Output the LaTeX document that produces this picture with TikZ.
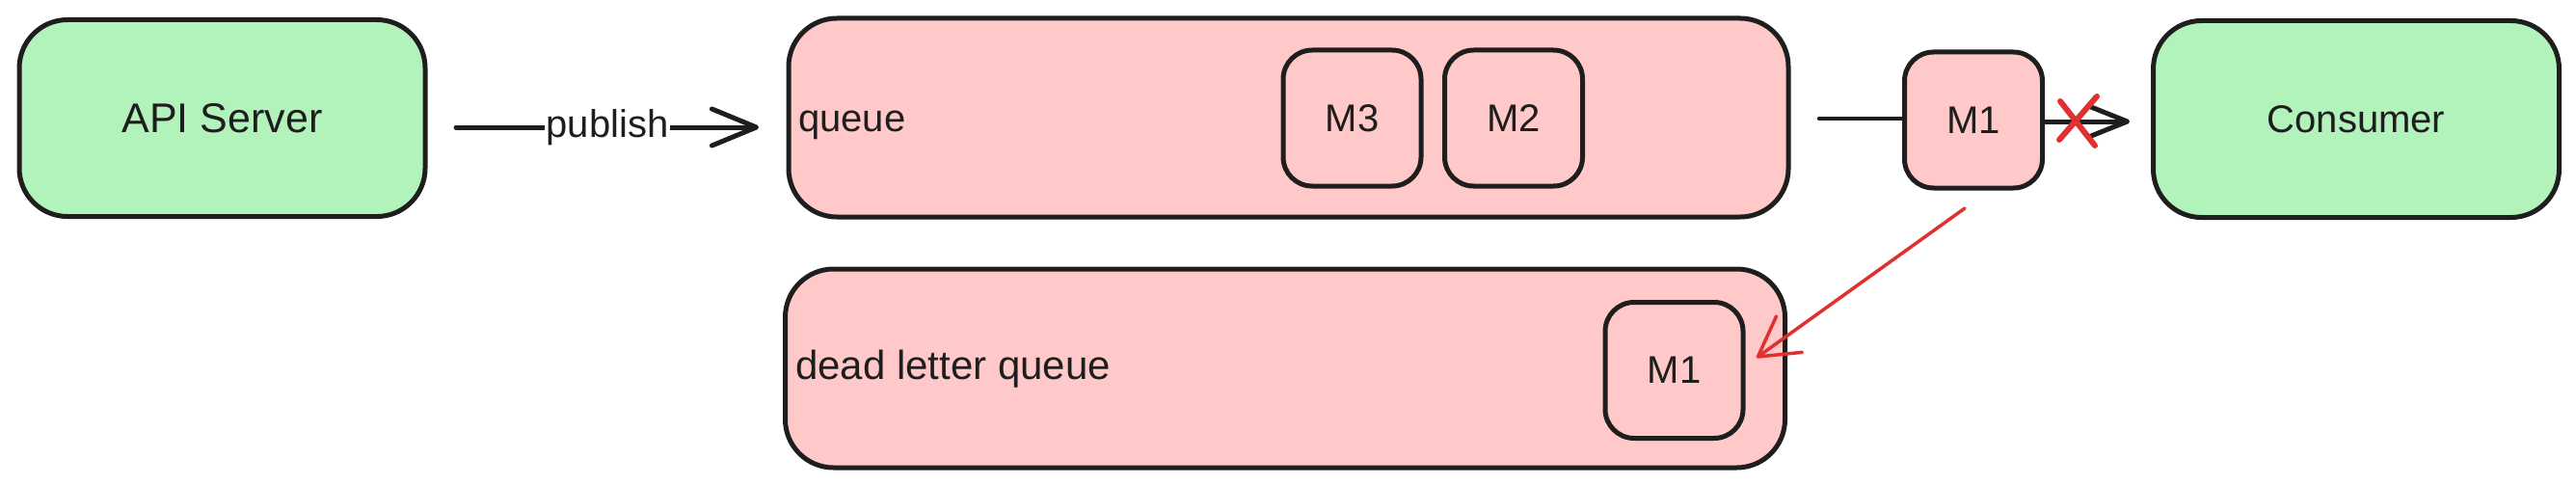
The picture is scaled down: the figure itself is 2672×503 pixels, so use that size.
\documentclass[tikz,border=0pt]{standalone}
\usepackage{fontspec}
\setmainfont{Liberation Sans}
\usetikzlibrary{arrows.meta}
\definecolor{ink}{HTML}{1E1E1E}
\definecolor{okgreen}{HTML}{B2F2BB}
\definecolor{pinkfill}{HTML}{FFC9C9}
\definecolor{redink}{HTML}{E03131}
\tikzset{
  box/.style={draw=ink, line width=5pt, rounded corners=50pt, inner sep=0pt},
  svc/.style={box, fill=okgreen, minimum width=421pt, minimum height=204pt, txt},
  qbox/.style={box, fill=pinkfill, minimum width=1037pt, minimum height=206pt},
  msg/.style={box, fill=pinkfill, rounded corners=30pt, minimum width=143pt, minimum height=141pt, txt},
  txt/.style={font=\fontsize{40}{48}\selectfont, text=ink},
  conn/.style={draw=ink, line width=5pt, line cap=round, line join=round},
  barbA/.style={-{Straight Barb[length=46pt, width=38pt, line cap=round, line join=round]}},
  barbB/.style={-{Straight Barb[length=40pt, width=32pt, line cap=round, line join=round]}},
  redarrow/.style={draw=redink, line width=3.5pt, line cap=round, -{Straight Barb[length=40pt, width=46pt, line cap=round, line join=round]}},
  redx/.style={draw=redink, line width=6pt, line cap=round}
}
\begin{document}
\begin{tikzpicture}[x=1pt, y=-1pt]
  \useasboundingbox (0,0) rectangle (2672,503);
  % services
  \node[svc] (api) at (230.5,122.5) {\fontsize{43}{50}\selectfont API Server};
  \node[svc] (consumer) at (2444,123.5) {Consumer};
  % main queue
  \node[qbox] (queue) at (1336.5,122) {};
  \node[txt, anchor=base west, inner sep=0pt] (qlabel) at (828,136) {queue};
  \node[msg] (m3) at (1402.5,122.5) {M3};
  \node[msg] (m2) at (1570,122.5) {M2};
  % message in flight
  \node[msg] (m1) at (2047,124.5) {M1};
  % dead letter queue
  \node[qbox] (dlq) at (1333,382) {};
  \node[txt, anchor=base west, inner sep=0pt] (dlabel) at (825,393) {\fontsize{42}{50}\selectfont dead letter queue};
  \node[msg] (dm1) at (1736.5,384) {M1};
  % publish arrow
  \coordinate (pubA) at (473,132);
  \coordinate (pubB) at (787,132);
  \draw[conn, barbA] (pubA) -- node[txt, fill=white, inner sep=2pt] (pub) {publish} (pubB);
  % queue -> M1
  \coordinate (qout) at (1887,123);
  \draw[conn, line width=4.5pt] (qout) -- (qout -| m1.west);
  % M1 -> consumer (blocked)
  \coordinate (cin) at (2209,126);
  \draw[conn, barbB] (m1.east |- cin) -- (cin);
  \coordinate (xmark) at (2155,127);
  \draw[redx] (xmark) ++(-18,-22) -- ++(36,46);
  \draw[redx] (xmark) ++(20,-27) -- ++(-39,45);
  % to dead letter queue
  \coordinate (dstart) at (2038,216);
  \coordinate (dtip) at (1822,371);
  \draw[redarrow] (dstart) -- (dtip);
\end{tikzpicture}
\end{document}
